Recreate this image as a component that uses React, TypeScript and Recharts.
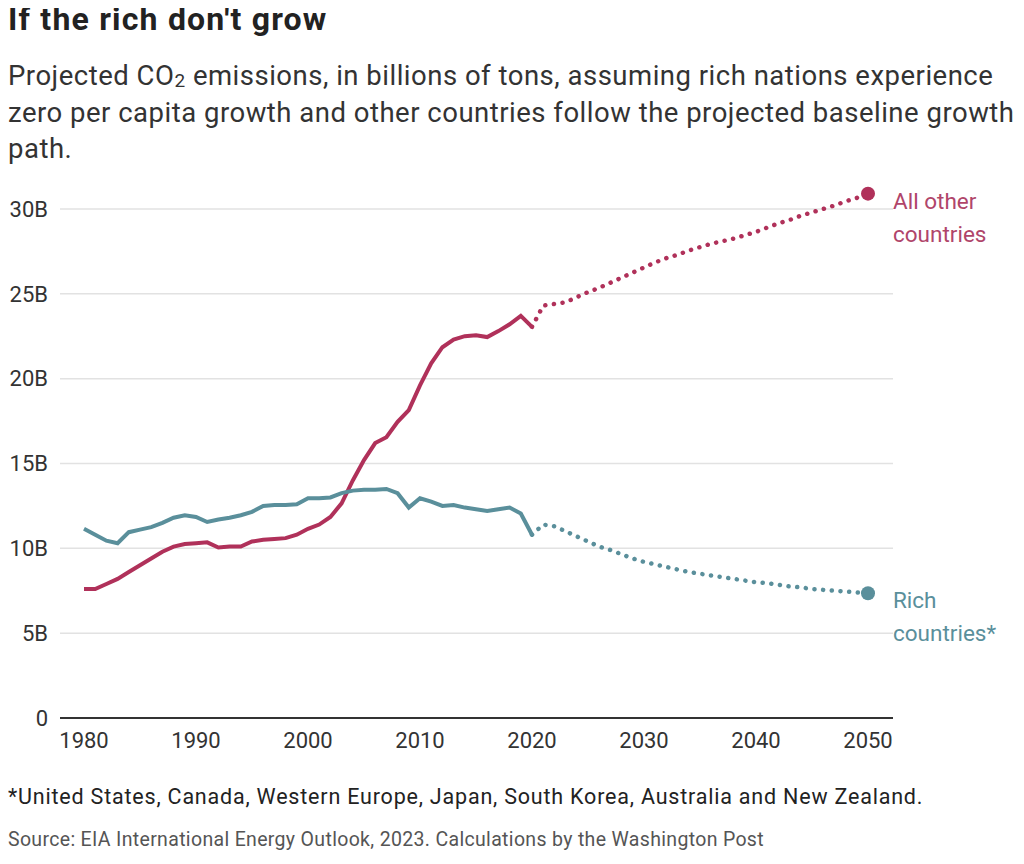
import { CartesianGrid, Line, LineChart, XAxis, YAxis } from 'recharts'

// historical, 1980-2020
const histYears = [
  1980, 1981, 1982, 1983, 1984, 1985, 1986, 1987, 1988, 1989, 1990, 1991, 1992, 1993, 1994, 1995, 1996, 1997, 1998,
  1999, 2000, 2001, 2002, 2003, 2004, 2005, 2006, 2007, 2008, 2009, 2010, 2011, 2012, 2013, 2014, 2015, 2016, 2017,
  2018, 2019, 2020,
]
const otherHist = [
  7.6, 7.6, 7.9, 8.2, 8.6, 9.0, 9.4, 9.8, 10.1, 10.25, 10.3, 10.35, 10.05, 10.1, 10.1, 10.4, 10.5, 10.55, 10.6, 10.8,
  11.15, 11.4, 11.85, 12.65, 14.0, 15.2, 16.2, 16.55, 17.45, 18.15, 19.6, 20.9, 21.85, 22.3, 22.5, 22.55, 22.45, 22.8,
  23.2, 23.7, 23.05,
]
const richHist = [
  11.15, 10.8, 10.45, 10.3, 10.95, 11.1, 11.25, 11.5, 11.8, 11.95, 11.85, 11.55, 11.7, 11.8, 11.95, 12.15, 12.5, 12.55,
  12.55, 12.6, 12.95, 12.95, 13.0, 13.25, 13.4, 13.45, 13.45, 13.5, 13.25, 12.4, 12.95, 12.75, 12.5, 12.55, 12.4, 12.3,
  12.2, 12.3, 12.4, 12.05, 10.8,
]

// projection, 2020-2050
const projYears = [
  2020, 2021, 2022, 2023, 2024, 2025, 2026, 2027, 2028, 2029, 2030, 2031, 2032, 2033, 2034, 2035, 2036, 2037, 2038,
  2039, 2040, 2041, 2042, 2043, 2044, 2045, 2046, 2047, 2048, 2049, 2050,
]
const otherProj = [
  23.05, 24.3, 24.4, 24.5, 24.8, 25.1, 25.35, 25.65, 25.95, 26.25, 26.55, 26.85, 27.1, 27.3, 27.55, 27.75, 27.95, 28.1,
  28.25, 28.45, 28.65, 28.9, 29.15, 29.35, 29.6, 29.8, 30.0, 30.2, 30.45, 30.65, 30.9,
]
const richProj = [
  10.8, 11.4, 11.3, 11.0, 10.7, 10.4, 10.1, 9.9, 9.65, 9.4, 9.2, 9.05, 8.9, 8.75, 8.6, 8.5, 8.4, 8.3, 8.2, 8.1, 8.0,
  7.95, 7.85, 7.75, 7.7, 7.6, 7.55, 7.5, 7.45, 7.4, 7.35,
]

const xTicks = [1980, 1990, 2000, 2010, 2020, 2030, 2040, 2050]
const yTicks = [0, 5, 10, 15, 20, 25, 30]

const RED = '#b0315a'
const TEAL = '#5a8f9b'

const rows = new Map<number, any>()
histYears.forEach((y, i) => rows.set(y, { year: y, otherHist: otherHist[i], richHist: richHist[i] }))
projYears.forEach((y, i) => {
  const r = rows.get(y) ?? { year: y }
  r.otherProj = otherProj[i]
  r.richProj = richProj[i]
  rows.set(y, r)
})
const data = [...rows.values()].sort((a, b) => a.year - b.year)

const endDot = (color: string) => (props: any) => {
  const { cx, cy, index } = props
  if (index !== data.length - 1 || cx == null || cy == null) return <g key={`d${index}`} />
  return <circle key={`d${index}`} cx={cx} cy={cy} r={7} fill={color} />
}

const tick = { fontSize: 22, fill: '#333' }

export default function App() {
  return (
    <div style={{ position: 'relative', width: 1008, height: 848, fontFamily: 'Roboto, sans-serif', color: '#222' }}>
      <div
        style={{
          position: 'absolute',
          left: 0,
          top: -7,
          fontSize: 32,
          lineHeight: '36px',
          fontWeight: 700,
          letterSpacing: 1.2,
          whiteSpace: 'nowrap',
        }}
      >
        If the rich don't grow
      </div>
      <div
        style={{
          position: 'absolute',
          left: 0,
          top: 50,
          fontSize: 27.5,
          lineHeight: '36.5px',
          letterSpacing: 0.5,
          color: '#333',
          whiteSpace: 'nowrap',
        }}
      >
        <div>
          Projected CO
          <sub style={{ fontSize: 19, lineHeight: 0, position: 'relative', top: 2, verticalAlign: 'baseline' }}>2</sub>{' '}
          emissions, in billions of tons, assuming rich nations experience
        </div>
        <div>zero per capita growth and other countries follow the projected baseline growth</div>
        <div>path.</div>
      </div>

      <div style={{ position: 'absolute', left: 0, top: 160 }}>
        <LineChart width={1000} height={600} data={data} margin={{ top: 7, right: 115, bottom: 0, left: 0 }}>
          <CartesianGrid vertical={false} horizontalValues={yTicks} stroke="#e2e2e2" strokeWidth={1.5} />
          <XAxis
            dataKey="year"
            type="number"
            domain={[1980, 2050]}
            ticks={xTicks}
            interval={0}
            padding={{ left: 24, right: 25 }}
            tickLine={false}
            axisLine={{ stroke: '#333', strokeWidth: 2 }}
            tick={tick}
            tickMargin={8}
            height={50}
          />
          <YAxis
            domain={[0, 32]}
            ticks={yTicks}
            interval={0}
            tickFormatter={(v) => (v === 0 ? '0' : `${v}B`)}
            width={52}
            axisLine={false}
            tickLine={false}
            tickMargin={6}
            tick={tick}
          />
          <Line dataKey="otherHist" stroke={RED} strokeWidth={4} dot={false} isAnimationActive={false} />
          <Line dataKey="richHist" stroke={TEAL} strokeWidth={4} dot={false} isAnimationActive={false} />
          <Line
            dataKey="otherProj"
            stroke={RED}
            strokeWidth={4.5}
            strokeDasharray="0.1 8.6"
            strokeLinecap="round"
            dot={endDot(RED)}
            activeDot={false}
            isAnimationActive={false}
          />
          <Line
            dataKey="richProj"
            stroke={TEAL}
            strokeWidth={4.5}
            strokeDasharray="0.1 8.6"
            strokeLinecap="round"
            dot={endDot(TEAL)}
            activeDot={false}
            isAnimationActive={false}
          />
        </LineChart>
      </div>

      <div style={{ position: 'absolute', left: 885, top: 177, fontSize: 22.5, lineHeight: '33px', color: '#b0456a' }}>
        All other
        <br />
        countries
      </div>
      <div style={{ position: 'absolute', left: 885, top: 576, fontSize: 22.5, lineHeight: '33px', color: TEAL }}>
        Rich
        <br />
        countries*
      </div>

      <div
        style={{
          position: 'absolute',
          left: 0,
          top: 776,
          fontSize: 21.5,
          lineHeight: '26px',
          letterSpacing: 0.8,
          color: '#222',
          whiteSpace: 'nowrap',
        }}
      >
        *United States, Canada, Western Europe, Japan, South Korea, Australia and New Zealand.
      </div>
      <div
        style={{
          position: 'absolute',
          left: 0,
          top: 820,
          fontSize: 19.5,
          lineHeight: '24px',
          letterSpacing: 0.33,
          color: '#555',
          whiteSpace: 'nowrap',
        }}
      >
        Source: EIA International Energy Outlook, 2023. Calculations by the Washington Post
      </div>
    </div>
  )
}
